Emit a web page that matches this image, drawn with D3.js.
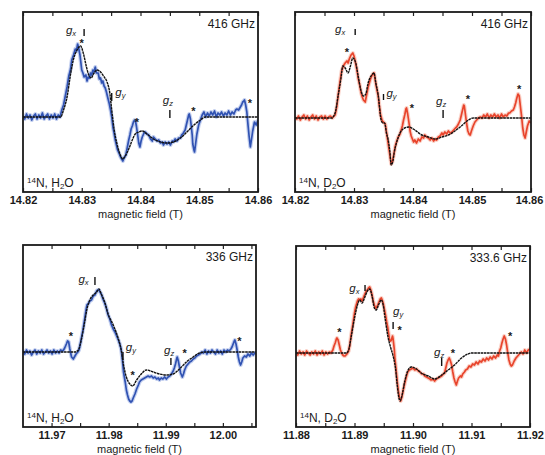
<!DOCTYPE html>
<html><head><meta charset="utf-8">
<script src="https://cdn.jsdelivr.net/npm/d3@7"></script>
<style>
body{margin:0;background:#fff;}
text{font-family:"Liberation Sans",Arial,sans-serif;fill:#1a1a1a;}
</style>
</head><body>
<svg id="c" width="545" height="455"></svg>
<script>
// ---------- Data (magnetic field in T, signal in arbitrary units) ----------
const p1Ticks = [14.82,14.83,14.84,14.85,14.86];
const p1Minor = [14.825,14.835,14.845,14.855];
const p2Ticks = [14.82,14.83,14.84,14.85,14.86];
const p2Minor = [14.825,14.835,14.845,14.855];
const p3Ticks = [11.97,11.98,11.99,12.00];
const p3Minor = [11.975,11.985,11.995,12.005];
const p4Ticks = [11.88,11.89,11.90,11.91,11.92];
const p4Minor = [11.885,11.895,11.905,11.915];

const p1Sim = [[14.8200,0],[14.8264,0],[14.8269,0.07],[14.8275,0.2],[14.8281,0.43],[14.8286,0.58],[14.8292,0.67],[14.8298,0.71],[14.8303,0.63],[14.8308,0.5],[14.8312,0.42],[14.8316,0.39],[14.8320,0.43],[14.8326,0.47],[14.8332,0.45],[14.8337,0.41],[14.8343,0.35],[14.8348,0.23],[14.8351,0.07],[14.8355,-0.12],[14.8360,-0.27],[14.8365,-0.37],[14.8370,-0.42],[14.8374,-0.39],[14.8380,-0.32],[14.8386,-0.23],[14.8391,-0.17],[14.8397,-0.15],[14.8403,-0.14],[14.8411,-0.17],[14.8422,-0.22],[14.8434,-0.25],[14.8445,-0.26],[14.8456,-0.25],[14.8468,-0.21],[14.8479,-0.15],[14.8491,-0.08],[14.8502,-0.03],[14.8510,0],[14.8600,0]];
const p1Exp = [[14.8200,0.01],[14.8203,-0.02],[14.8206,0.03],[14.8209,-0.01],[14.8212,0.02],[14.8215,-0.03],[14.8218,0.01],[14.8221,0.03],[14.8224,-0.02],[14.8227,0.02],[14.8230,-0.01],[14.8233,0.04],[14.8236,-0.02],[14.8239,0.01],[14.8242,0.03],[14.8245,-0.02],[14.8248,0.02],[14.8251,-0.01],[14.8254,0.03],[14.8257,-0.02],[14.8260,0.02],[14.8263,0.00],
[14.8266,0.07],[14.8269,0.12],[14.8272,0.21],[14.8275,0.30],[14.8278,0.41],[14.8281,0.48],[14.8283,0.57],[14.8286,0.62],[14.8289,0.68],[14.8291,0.66],[14.8293,0.73],[14.8295,0.68],[14.8297,0.62],[14.8300,0.47],[14.8302,0.44],[14.8304,0.40],[14.8307,0.42],[14.8309,0.36],[14.8311,0.40],[14.8313,0.39],[14.8315,0.44],[14.8317,0.42],[14.8319,0.47],[14.8321,0.45],[14.8323,0.50],[14.8325,0.44],[14.8328,0.44],[14.8330,0.38],[14.8332,0.39],[14.8334,0.34],[14.8336,0.36],[14.8338,0.31],[14.8340,0.29],[14.8342,0.25],[14.8344,0.20],[14.8347,0.13],[14.8349,0.07],[14.8351,0.00],[14.8353,-0.10],[14.8355,-0.16],[14.8357,-0.23],[14.8359,-0.28],[14.8361,-0.33],[14.8364,-0.37],[14.8366,-0.40],[14.8368,-0.42],[14.8370,-0.44],[14.8372,-0.41],[14.8375,-0.38],[14.8377,-0.32],[14.8380,-0.23],[14.8382,-0.18],[14.8384,-0.12],[14.8386,-0.09],[14.8388,-0.05],[14.8390,-0.03],[14.8391,-0.03],[14.8393,-0.09],[14.8395,-0.17],[14.8397,-0.26],[14.8399,-0.30],[14.8401,-0.24],[14.8403,-0.20],[14.8406,-0.16],[14.8408,-0.15],[14.8411,-0.17],[14.8414,-0.18],[14.8417,-0.22],[14.8420,-0.24],[14.8422,-0.20],[14.8425,-0.22],[14.8428,-0.24],[14.8431,-0.23],[14.8434,-0.26],[14.8437,-0.25],[14.8439,-0.28],[14.8442,-0.25],[14.8445,-0.27],[14.8448,-0.25],[14.8451,-0.28],[14.8454,-0.24],[14.8456,-0.25],[14.8459,-0.22],[14.8462,-0.24],[14.8465,-0.21],[14.8468,-0.21],[14.8470,-0.18],[14.8472,-0.17],[14.8474,-0.15],[14.8476,-0.13],[14.8478,-0.08],[14.8480,-0.03],[14.8482,0.02],[14.8483,0.03],[14.8485,-0.02],[14.8486,-0.07],[14.8488,-0.18],[14.8489,-0.27],[14.8491,-0.33],[14.8492,-0.35],[14.8494,-0.26],[14.8496,-0.17],[14.8499,-0.08],[14.8502,-0.03],
[14.8505,0.02],[14.8508,0.05],[14.8511,0.00],[14.8514,0.04],[14.8517,0.01],[14.8520,0.05],[14.8523,0.02],[14.8526,0.06],[14.8529,0.00],[14.8532,0.04],[14.8535,0.02],[14.8538,0.05],[14.8541,0.01],[14.8544,0.04],[14.8547,0.02],[14.8550,0.06],[14.8553,0.02],[14.8556,0.05],[14.8559,0.03],[14.8562,0.07],[14.8564,0.08],[14.8567,0.07],[14.8570,0.10],[14.8572,0.12],[14.8574,0.15],[14.8576,0.16],[14.8577,0.17],[14.8579,0.12],[14.8581,0.05],[14.8583,-0.08],[14.8585,-0.20],[14.8587,-0.30],[14.8589,-0.22],[14.8591,-0.14],[14.8594,-0.05],[14.8597,-0.08],[14.8600,-0.03]];

const p2Sim = [[14.8200,0],[14.8262,0],[14.8268,0.05],[14.8273,0.22],[14.8278,0.40],[14.8281,0.52],[14.8285,0.50],[14.8290,0.45],[14.8294,0.52],[14.8298,0.60],[14.8303,0.55],[14.8307,0.42],[14.8312,0.27],[14.8316,0.22],[14.8320,0.24],[14.8324,0.35],[14.8330,0.43],[14.8334,0.45],[14.8337,0.35],[14.8341,0.23],[14.8346,-0.02],[14.8349,-0.05],[14.8352,-0.05],[14.8355,-0.15],[14.8358,-0.22],[14.8361,-0.35],[14.8363,-0.47],[14.8366,-0.43],[14.8368,-0.35],[14.8372,-0.25],[14.8378,-0.15],[14.8386,-0.10],[14.8393,-0.09],[14.8403,-0.12],[14.8415,-0.17],[14.8426,-0.19],[14.8437,-0.21],[14.8449,-0.19],[14.8460,-0.17],[14.8471,-0.13],[14.8482,-0.08],[14.8494,-0.02],[14.8502,0],[14.8600,0]];
const p2Exp = [[14.8200,0.01],[14.8203,-0.01],[14.8206,0.02],[14.8209,-0.02],[14.8212,0.01],[14.8215,0.03],[14.8218,-0.01],[14.8221,0.02],[14.8224,-0.02],[14.8227,0.01],[14.8230,0.03],[14.8233,-0.01],[14.8236,0.02],[14.8239,-0.02],[14.8242,0.01],[14.8245,0.02],[14.8248,-0.01],[14.8251,0.02],[14.8254,-0.01],[14.8257,0.01],[14.8260,0.02],[14.8263,0.00],
[14.8268,0.03],[14.8271,0.12],[14.8273,0.22],[14.8276,0.35],[14.8279,0.47],[14.8282,0.52],[14.8285,0.55],[14.8288,0.57],[14.8290,0.55],[14.8292,0.59],[14.8295,0.63],[14.8298,0.65],[14.8300,0.62],[14.8302,0.57],[14.8305,0.48],[14.8307,0.40],[14.8310,0.32],[14.8312,0.25],[14.8314,0.21],[14.8316,0.18],[14.8319,0.16],[14.8322,0.25],[14.8324,0.31],[14.8326,0.35],[14.8328,0.39],[14.8330,0.42],[14.8332,0.44],[14.8334,0.45],[14.8336,0.38],[14.8337,0.34],[14.8339,0.28],[14.8341,0.22],[14.8343,0.12],[14.8345,0.03],[14.8348,-0.03],[14.8350,-0.04],[14.8353,-0.06],[14.8355,-0.14],[14.8357,-0.22],[14.8359,-0.30],[14.8361,-0.38],[14.8363,-0.46],[14.8365,-0.44],[14.8368,-0.35],[14.8370,-0.28],[14.8372,-0.24],[14.8375,-0.19],[14.8378,-0.16],[14.8380,-0.12],[14.8382,-0.08],[14.8384,-0.02],[14.8386,0.03],[14.8388,0.09],[14.8389,0.10],[14.8391,0.04],[14.8392,0.00],[14.8394,-0.08],[14.8395,-0.13],[14.8397,-0.18],[14.8399,-0.21],[14.8401,-0.24],[14.8403,-0.22],[14.8406,-0.25],[14.8409,-0.21],[14.8412,-0.23],[14.8415,-0.19],[14.8418,-0.20],[14.8420,-0.17],[14.8423,-0.19],[14.8426,-0.20],[14.8429,-0.22],[14.8432,-0.20],[14.8435,-0.23],[14.8438,-0.21],[14.8440,-0.22],[14.8443,-0.19],[14.8446,-0.18],[14.8449,-0.15],[14.8451,-0.17],[14.8454,-0.14],[14.8457,-0.16],[14.8460,-0.13],[14.8463,-0.15],[14.8466,-0.14],[14.8469,-0.12],[14.8472,-0.10],[14.8474,-0.09],[14.8477,-0.06],[14.8480,-0.02],[14.8482,0.03],[14.8484,0.08],[14.8486,0.13],[14.8487,0.12],[14.8489,0.03],[14.8491,-0.06],[14.8493,-0.13],[14.8495,-0.16],[14.8497,-0.17],[14.8499,-0.13],[14.8502,-0.08],[14.8505,-0.04],[14.8508,-0.02],[14.8511,0.00],[14.8514,0.01],
[14.8517,0.00],[14.8520,0.03],[14.8523,0.01],[14.8526,0.04],[14.8529,0.00],[14.8532,0.03],[14.8535,0.01],[14.8538,0.04],[14.8541,0.01],[14.8544,0.03],[14.8547,0.00],[14.8550,0.04],[14.8553,0.01],[14.8556,0.03],[14.8559,0.02],[14.8562,0.05],[14.8564,0.05],[14.8567,0.07],[14.8570,0.08],[14.8572,0.11],[14.8574,0.15],[14.8576,0.20],[14.8578,0.24],[14.8580,0.22],[14.8582,0.12],[14.8584,0.02],[14.8586,-0.10],[14.8588,-0.17],[14.8590,-0.20],[14.8592,-0.14],[14.8594,-0.08],[14.8597,-0.03],[14.8600,-0.05]];

const p3Sim = [[11.9649,0],[11.9741,0],[11.9747,0.02],[11.9752,0.12],[11.9758,0.30],[11.9762,0.43],[11.9767,0.52],[11.9773,0.57],[11.9779,0.60],[11.9783,0.63],[11.9787,0.58],[11.9793,0.50],[11.9799,0.38],[11.9808,0.27],[11.9817,0.13],[11.9822,0.02],[11.9826,-0.13],[11.9831,-0.25],[11.9837,-0.32],[11.9842,-0.34],[11.9849,-0.28],[11.9857,-0.22],[11.9866,-0.18],[11.9878,-0.20],[11.9889,-0.22],[11.9901,-0.23],[11.9913,-0.22],[11.9924,-0.17],[11.9936,-0.10],[11.9948,-0.05],[11.9959,-0.01],[11.9971,0],[12.0060,0]];
const p3Exp = [[11.9650,0.01],[11.9653,-0.02],[11.9656,0.02],[11.9659,-0.01],[11.9662,0.01],[11.9665,-0.03],[11.9668,0.00],[11.9671,0.02],[11.9674,-0.02],[11.9677,0.01],[11.9680,-0.01],[11.9683,0.02],[11.9686,-0.02],[11.9689,0.00],[11.9692,0.02],[11.9695,-0.01],[11.9698,0.01],[11.9701,-0.02],[11.9704,0.02],[11.9707,-0.01],[11.9710,0.01],[11.9713,-0.01],[11.9716,0.02],[11.9719,0.01],
[11.9721,0.02],[11.9723,0.04],[11.9726,0.08],[11.9728,0.11],[11.9730,0.10],[11.9732,0.03],[11.9735,-0.05],[11.9738,-0.07],[11.9741,-0.04],[11.9743,-0.02],[11.9746,0.00],[11.9748,0.02],[11.9750,0.07],[11.9752,0.13],[11.9755,0.22],[11.9758,0.33],[11.9760,0.41],[11.9762,0.47],[11.9764,0.48],[11.9767,0.51],[11.9770,0.52],[11.9773,0.56],[11.9776,0.57],[11.9779,0.61],[11.9781,0.62],[11.9783,0.62],[11.9785,0.60],[11.9787,0.58],[11.9790,0.53],[11.9793,0.49],[11.9796,0.44],[11.9799,0.37],[11.9802,0.33],[11.9805,0.27],[11.9808,0.23],[11.9811,0.20],[11.9814,0.16],[11.9817,0.12],[11.9820,0.07],[11.9822,0.02],[11.9824,-0.08],[11.9826,-0.20],[11.9829,-0.30],[11.9831,-0.38],[11.9833,-0.43],[11.9835,-0.47],[11.9837,-0.49],[11.9839,-0.50],[11.9841,-0.49],[11.9843,-0.46],[11.9846,-0.42],[11.9849,-0.37],[11.9852,-0.33],[11.9854,-0.30],[11.9857,-0.28],[11.9860,-0.27],[11.9863,-0.26],[11.9866,-0.25],[11.9869,-0.24],[11.9872,-0.25],[11.9875,-0.24],[11.9878,-0.26],[11.9881,-0.25],[11.9884,-0.27],[11.9887,-0.26],[11.9889,-0.28],[11.9892,-0.26],[11.9895,-0.27],[11.9898,-0.25],[11.9901,-0.27],[11.9904,-0.25],[11.9907,-0.24],[11.9910,-0.22],[11.9913,-0.19],[11.9915,-0.16],[11.9917,-0.12],[11.9919,-0.07],[11.9920,-0.05],[11.9922,-0.09],[11.9924,-0.15],[11.9926,-0.21],[11.9929,-0.25],[11.9931,-0.22],[11.9933,-0.18],[11.9936,-0.14],[11.9939,-0.12],[11.9942,-0.10],[11.9945,-0.09],[11.9948,-0.07],[11.9951,-0.06],[11.9954,-0.04],[11.9957,-0.03],[11.9960,-0.02],[11.9963,0.00],
[11.9966,-0.01],[11.9969,0.02],[11.9972,-0.02],[11.9975,0.01],[11.9978,-0.01],[11.9981,0.02],[11.9984,0.00],[11.9987,-0.02],[11.9990,0.02],[11.9993,-0.01],[11.9996,0.01],[11.9999,-0.02],[12.0002,0.02],[12.0005,0.00],[12.0008,0.02],[12.0011,0.01],[12.0014,0.03],[12.0016,0.05],[12.0018,0.08],[12.0020,0.11],[12.0021,0.12],[12.0023,0.08],[12.0025,0.02],[12.0027,-0.05],[12.0029,-0.10],[12.0031,-0.13],[12.0033,-0.10],[12.0035,-0.06],[12.0038,-0.04],[12.0041,-0.05],[12.0044,-0.02],[12.0047,-0.04],[12.0050,-0.01],[12.0053,-0.03],[12.0056,-0.01],[12.0058,-0.02]];

const p4Sim = [[11.8800,0],[11.8886,0],[11.8890,0.03],[11.8894,0.15],[11.8900,0.35],[11.8905,0.48],[11.8909,0.53],[11.8913,0.50],[11.8917,0.55],[11.8922,0.62],[11.8926,0.64],[11.8930,0.57],[11.8934,0.45],[11.8937,0.43],[11.8941,0.48],[11.8946,0.53],[11.8949,0.48],[11.8953,0.32],[11.8957,0.17],[11.8962,0.05],[11.8966,-0.03],[11.8970,-0.15],[11.8973,-0.32],[11.8976,-0.45],[11.8978,-0.48],[11.8981,-0.43],[11.8986,-0.28],[11.8991,-0.18],[11.8997,-0.14],[11.9006,-0.16],[11.9014,-0.20],[11.9026,-0.23],[11.9037,-0.26],[11.9049,-0.22],[11.9060,-0.17],[11.9071,-0.12],[11.9083,-0.05],[11.9094,-0.01],[11.9100,0],[11.9200,0]];
const p4Exp = [[11.8800,0.01],[11.8803,-0.02],[11.8806,0.02],[11.8809,-0.01],[11.8812,0.01],[11.8815,-0.02],[11.8818,0.02],[11.8821,0.00],[11.8824,-0.02],[11.8827,0.01],[11.8830,-0.01],[11.8833,0.02],[11.8836,-0.02],[11.8839,0.01],[11.8842,-0.01],[11.8845,0.02],[11.8848,-0.02],[11.8851,0.01],[11.8854,-0.01],[11.8857,0.01],[11.8860,0.00],
[11.8863,0.03],[11.8865,0.07],[11.8867,0.10],[11.8869,0.14],[11.8870,0.15],[11.8872,0.13],[11.8874,0.08],[11.8876,0.03],[11.8878,0.00],[11.8880,-0.02],[11.8882,-0.03],[11.8884,-0.03],[11.8887,-0.01],[11.8890,0.02],[11.8892,0.08],[11.8894,0.17],[11.8897,0.28],[11.8900,0.40],[11.8902,0.46],[11.8905,0.52],[11.8907,0.54],[11.8909,0.53],[11.8911,0.54],[11.8913,0.52],[11.8915,0.55],[11.8917,0.58],[11.8920,0.62],[11.8922,0.63],[11.8924,0.65],[11.8926,0.66],[11.8928,0.63],[11.8930,0.58],[11.8932,0.52],[11.8934,0.48],[11.8936,0.45],[11.8937,0.45],[11.8939,0.47],[11.8941,0.50],[11.8944,0.54],[11.8946,0.55],[11.8948,0.52],[11.8949,0.50],[11.8951,0.44],[11.8953,0.38],[11.8955,0.31],[11.8957,0.25],[11.8959,0.17],[11.8960,0.13],[11.8962,0.12],[11.8963,0.13],[11.8965,0.17],[11.8966,0.14],[11.8968,0.04],[11.8969,-0.05],[11.8971,-0.16],[11.8973,-0.28],[11.8975,-0.38],[11.8977,-0.45],[11.8979,-0.48],[11.8981,-0.44],[11.8983,-0.38],[11.8986,-0.30],[11.8989,-0.23],[11.8991,-0.19],[11.8994,-0.17],[11.8997,-0.16],[11.9000,-0.15],[11.9003,-0.17],[11.9006,-0.16],[11.9009,-0.18],[11.9012,-0.19],[11.9015,-0.21],[11.9018,-0.21],[11.9020,-0.23],[11.9023,-0.24],[11.9026,-0.25],[11.9029,-0.26],[11.9031,-0.27],[11.9034,-0.26],[11.9037,-0.28],[11.9040,-0.26],[11.9043,-0.25],[11.9046,-0.24],[11.9049,-0.23],[11.9052,-0.21],[11.9054,-0.20],[11.9056,-0.15],[11.9058,-0.10],[11.9060,-0.07],[11.9062,-0.05],[11.9064,-0.08],[11.9066,-0.12],[11.9068,-0.19],[11.9070,-0.25],[11.9072,-0.29],[11.9074,-0.32],[11.9076,-0.28],[11.9078,-0.25],[11.9081,-0.23],[11.9083,-0.24],[11.9085,-0.21],[11.9088,-0.19],[11.9090,-0.17],[11.9093,-0.16],[11.9096,-0.13],[11.9099,-0.14],[11.9102,-0.11],[11.9105,-0.12],[11.9108,-0.09],[11.9111,-0.11],[11.9114,-0.08],[11.9117,-0.09],[11.9120,-0.06],[11.9123,-0.08],[11.9126,-0.05],[11.9129,-0.07],[11.9132,-0.04],[11.9135,-0.06],[11.9138,-0.03],[11.9141,-0.05],[11.9144,-0.02],[11.9146,-0.03],[11.9148,0.02],[11.9150,0.05],[11.9152,0.10],[11.9154,0.14],[11.9156,0.17],[11.9158,0.14],[11.9160,0.08],[11.9162,0.00],[11.9164,-0.07],[11.9166,-0.11],[11.9168,-0.13],[11.9170,-0.12],[11.9173,-0.08],[11.9176,-0.05],[11.9179,-0.03],[11.9182,-0.01],[11.9185,0.01],[11.9188,-0.01],[11.9191,0.03],[11.9194,0.00],[11.9197,0.03],[11.9200,0.04]];

// annotations: g-labels [axis, field, signal], bars [field, top, bottom], stars [field, signal]
const p1G = [["x",14.8273,0.83],["y",14.8357,0.21],["z",14.8438,0.13]];
const p1Bars = [[14.8304,0.88,0.81],[14.8351,0.24,0.16],[14.8450,0.07,-0.01]];
const p1Stars = [[14.8300,0.75],[14.8394,-0.04],[14.8490,0.07],[14.8586,0.15]];
const p2G = [["x",14.8268,0.85],["y",14.8355,0.21],["z",14.8439,0.13]];
const p2Bars = [[14.8302,0.89,0.83],[14.8350,0.24,0.18],[14.8451,0.08,0.0]];
const p2Stars = [[14.8288,0.67],[14.8398,0.11],[14.8493,0.20],[14.8580,0.30]];
const p3G = [["x",11.9747,0.69],["y",11.9830,0.01],["z",11.9897,-0.02]];
const p3Bars = [[11.9776,0.75,0.67],[11.9825,0.0,-0.08],[11.9909,-0.06,-0.13]];
const p3Stars = [[11.9734,0.17],[11.9842,-0.22],[11.9933,0.0],[12.0029,0.12]];
const p4G = [["x",11.8891,0.61],["y",11.8966,0.38],["z",11.9036,-0.03]];
const p4Bars = [[11.8918,0.68,0.62],[11.8966,0.31,0.24],[11.9049,-0.05,-0.13]];
const p4Stars = [[11.8874,0.22],[11.8977,0.24],[11.9068,0.01],[11.9166,0.18]];

const freqs = ["416 GHz","416 GHz","336 GHz","333.6 GHz"];
const solvents = ["H","D","H","D"];

// ---------- Layout ----------
const BLUE = "#3052b2", BLUE_HALO = "#7d96db";
const RED = "#e8442c", RED_HALO = "#f39a82";
const panels = [
  {x:23, y:12, w:235, h:180, xd:[14.82,14.86], yd:[-0.75,1.05], ticks:p1Ticks, minor:p1Minor, sim:p1Sim, exp:p1Exp, c:BLUE, ch:BLUE_HALO, g:p1G, bars:p1Bars, stars:p1Stars},
  {x:295, y:12, w:236, h:180, xd:[14.82,14.86], yd:[-0.74,1.06], ticks:p2Ticks, minor:p2Minor, sim:p2Sim, exp:p2Exp, c:RED, ch:RED_HALO, g:p2G, bars:p2Bars, stars:p2Stars},
  {x:23, y:245, w:233, h:182, xd:[11.965,12.0058], yd:[-0.75,1.07], ticks:p3Ticks, minor:p3Minor, sim:p3Sim, exp:p3Exp, c:BLUE, ch:BLUE_HALO, g:p3G, bars:p3Bars, stars:p3Stars},
  {x:296, y:246, w:234, h:181, xd:[11.88,11.92], yd:[-0.74,1.07], ticks:p4Ticks, minor:p4Minor, sim:p4Sim, exp:p4Exp, c:RED, ch:RED_HALO, g:p4G, bars:p4Bars, stars:p4Stars}
];

const svg = d3.select("#c");
svg.append("rect").attr("width",545).attr("height",455).attr("fill","#fff");
const fmt = d3.format(".2f");

panels.forEach((p,i)=>{
  const g = svg.append("g").attr("transform",`translate(${p.x},${p.y})`);
  const x = d3.scaleLinear().domain(p.xd).range([0,p.w]);
  const y = d3.scaleLinear().domain(p.yd).range([p.h,0]);
  const cid = "clip"+i;
  g.append("clipPath").attr("id",cid).append("rect").attr("width",p.w).attr("height",p.h);
  const plot = g.append("g").attr("clip-path",`url(#${cid})`);
  const line = d3.line().x(d=>x(d[0])).y(d=>y(d[1]));
  const smooth = d3.line().x(d=>x(d[0])).y(d=>y(d[1])).curve(d3.curveMonotoneX);

  plot.append("path").datum(p.exp).attr("d",line).attr("fill","none")
    .attr("stroke",p.ch).attr("stroke-width",4).attr("stroke-opacity",0.45).attr("stroke-linejoin","round");
  plot.append("path").datum(p.exp).attr("d",line).attr("fill","none")
    .attr("stroke",p.c).attr("stroke-width",1.7).attr("stroke-linejoin","round");
  plot.append("path").datum(p.sim).attr("d",smooth).attr("fill","none")
    .attr("stroke","#111").attr("stroke-width",1.4).attr("stroke-dasharray","2.6,0.6");

  // annotations
  p.g.forEach(a=>{
    const t = g.append("text").attr("x",x(a[1])).attr("y",y(a[2])).attr("font-size",11.5).attr("font-style","italic");
    t.append("tspan").text("g");
    t.append("tspan").attr("font-size",7.5).attr("dy",2).text(a[0]);
  });
  p.bars.forEach(b=>{
    g.append("line").attr("x1",x(b[0])).attr("x2",x(b[0])).attr("y1",y(b[1])).attr("y2",y(b[2]))
      .attr("stroke","#111").attr("stroke-width",1.4);
  });
  p.stars.forEach(s=>{
    g.append("text").attr("x",x(s[0])).attr("y",y(s[1])+5).attr("text-anchor","middle")
      .attr("font-size",11).attr("font-weight","bold").text("*");
  });

  // ticks (inward, top & bottom)
  const all = p.ticks.concat(p.minor);
  g.append("g").attr("transform",`translate(0,${p.h})`)
    .call(d3.axisBottom(x).tickValues(all).tickSize(-4).tickFormat(""))
    .call(a=>a.select(".domain").remove())
    .call(a=>a.selectAll("line").attr("stroke","#222").attr("stroke-width",1.2));
  g.append("g")
    .call(d3.axisTop(x).tickValues(all).tickSize(-4).tickFormat(""))
    .call(a=>a.select(".domain").remove())
    .call(a=>a.selectAll("line").attr("stroke","#222").attr("stroke-width",1.2));
  // tick labels
  const last = p.ticks[p.ticks.length-1];
  g.append("g").attr("transform",`translate(0,${p.h})`)
    .call(d3.axisBottom(x).tickValues(p.ticks).tickSize(0).tickPadding(4).tickFormat(fmt))
    .call(a=>a.select(".domain").remove())
    .call(a=>a.selectAll("text").attr("font-size",11).attr("font-weight","bold")
      .attr("font-family","'Liberation Sans',Arial,sans-serif").attr("fill","#222")
      .attr("dx", d => (p.x + x(d) + 15 > 545) ? -(p.x + x(d) + 15 - 544) : 0));

  // frame
  g.append("rect").attr("width",p.w).attr("height",p.h).attr("fill","none")
    .attr("stroke","#1a1a1a").attr("stroke-width",1.8);

  // axis title
  g.append("text").attr("x",p.w/2).attr("y",p.h+25.5).attr("text-anchor","middle")
    .attr("font-size",11).text("magnetic field (T)");
  // frequency
  g.append("text").attr("x",p.w-3).attr("y",16).attr("text-anchor","end")
    .attr("font-size",12).text(freqs[i]);
  // sample label
  const s = g.append("text").attr("x",4).attr("y",p.h-5).attr("font-size",12);
  s.append("tspan").attr("font-size",8).attr("dy",-4).text("14");
  s.append("tspan").attr("dy",4).text("N, " + solvents[i]);
  s.append("tspan").attr("font-size",8).attr("dy",2).text("2");
  s.append("tspan").attr("dy",-2).text("O");
});
</script>
</body></html>
